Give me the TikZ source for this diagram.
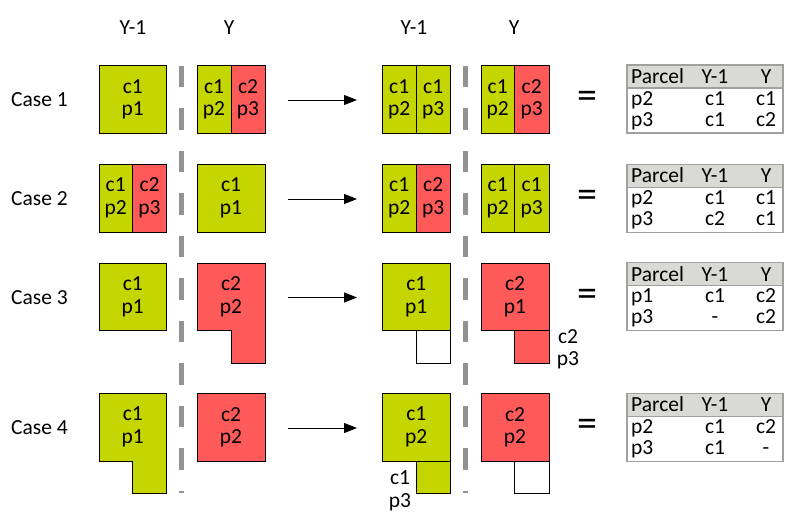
\documentclass[tikz,border=0pt]{standalone}
\usepackage{fontspec}
\setmainfont{Carlito}
\usetikzlibrary{arrows.meta}
\definecolor{cgreen}{HTML}{C5D500}
\definecolor{cred}{HTML}{FF5A5A}
\definecolor{sepgray}{HTML}{919396}
\definecolor{tabgray}{HTML}{A0A0A0}
\definecolor{tabhead}{HTML}{D9D9D6}
\newcommand\PTable[8]{%
  \fill[tabhead] (627,#2) rectangle (783,{#2+23});
  \draw[tab] (627,#2) rectangle (783,{#2+68});
  \draw[tab] (627,{#2+23}) -- (783,{#2+23});
  \node[anchor=base west] (#1hp) at (631,{#2+18.3}) {Parcel};
  \node[anchor=base] (#1hy1) at (715,{#2+18.3}) {Y-1};
  \node[anchor=base] (#1hy) at (766,{#2+18.3}) {Y};
  \node[anchor=base west] (#1ap) at (631,{#2+40}) {#3};
  \node[anchor=base] (#1ay1) at (715,{#2+40}) {#4};
  \node[anchor=base] (#1ay) at (766,{#2+40}) {#5};
  \node[anchor=base west] (#1bp) at (631,{#2+61}) {#6};
  \node[anchor=base] (#1by1) at (715,{#2+61}) {#7};
  \node[anchor=base] (#1by) at (766,{#2+61}) {#8};
}
\begin{document}
\begin{tikzpicture}[x=1pt,y=-1pt,
  every node/.style={font=\fontsize{21.5}{22.5}\selectfont, inner sep=0pt, align=center},
  gbox/.style={draw=black, line width=1pt, fill=cgreen},
  rbox/.style={draw=black, line width=1pt, fill=cred},
  wbox/.style={draw=black, line width=1pt, fill=white},
  sepline/.style={draw=sepgray, line width=5pt, dash pattern=on 21.5pt off 21pt},
  arr/.style={-{Triangle[length=13pt,width=10pt]}, line width=1pt},
  tab/.style={draw=tabgray, line width=1.5pt},
  eqs/.style={font=\fontsize{40}{40}\selectfont},
]
\useasboundingbox (0,0) rectangle (806,525);

% headers
\node (h1) at (133,28) {Y-1};
\node (h2) at (229,28) {Y};
\node (h3) at (414,28) {Y-1};
\node (h4) at (514,28) {Y};

% separators
\coordinate (s1a) at (181.7,65.7);
\coordinate (s1b) at (181.7,493);
\coordinate (s2a) at (465.7,65.7);
\coordinate (s2b) at (465.7,493);
\draw[sepline] (s1a) -- (s1b);
\draw[sepline] (s2a) -- (s2b);

% case labels
\node[anchor=west] (c1) at (11,100) {Case 1};
\node[anchor=west] (c2) at (11,199) {Case 2};
\node[anchor=west] (c3) at (11,297.5) {Case 3};
\node[anchor=west] (c4) at (11,428) {Case 4};

% ---------- Case 1 ----------
\draw[gbox] (99,65.5) rectangle (166.5,133);
\node (b1a) at (132.75,99.3) {c1\\p1};
\draw[gbox] (197,65.5) rectangle (231,133);
\draw[rbox] (231,65.5) rectangle (265,133);
\node (b1b) at (214,99.3) {c1\\p2};
\node (b1c) at (248,99.3) {c2\\p3};
\draw[gbox] (382.3,65.5) rectangle (416,133);
\draw[gbox] (416,65.5) rectangle (450.3,133);
\node (b1d) at (399.2,99.3) {c1\\p2};
\node (b1e) at (433.2,99.3) {c1\\p3};
\draw[gbox] (481,65.5) rectangle (514.5,133);
\draw[rbox] (514.5,65.5) rectangle (549,133);
\node (b1f) at (497.7,99.3) {c1\\p2};
\node (b1g) at (531.7,99.3) {c2\\p3};

% ---------- Case 2 ----------
\draw[gbox] (99,164) rectangle (132.5,232);
\draw[rbox] (132.5,164) rectangle (166.5,232);
\node (b2a) at (115.7,198) {c1\\p2};
\node (b2b) at (149.5,198) {c2\\p3};
\draw[gbox] (197,164) rectangle (265,232);
\node (b2c) at (231,198) {c1\\p1};
\draw[gbox] (382.3,164) rectangle (416,232);
\draw[rbox] (416,164) rectangle (450.3,232);
\node (b2d) at (399.2,198) {c1\\p2};
\node (b2e) at (433.2,198) {c2\\p3};
\draw[gbox] (481,164) rectangle (514.5,232);
\draw[gbox] (514.5,164) rectangle (549,232);
\node (b2f) at (497.7,198) {c1\\p2};
\node (b2g) at (531.7,198) {c1\\p3};

% ---------- Case 3 ----------
\draw[gbox] (99,263) rectangle (166.5,330.5);
\node (b3a) at (132.75,296.7) {c1\\p1};
\draw[rbox] (197,263) -- (265,263) -- (265,363) -- (231,363) -- (231,330.5) -- (197,330.5) -- cycle;
\node (b3b) at (231,296.7) {c2\\p2};
\draw[gbox] (382.3,263) rectangle (450.3,330.5);
\node (b3c) at (416.3,296.7) {c1\\p1};
\draw[wbox] (416,330.5) rectangle (450.3,363);
\draw[rbox] (481,263) rectangle (549,330.5);
\node (b3d) at (515,296.7) {c2\\p1};
\draw[rbox] (514.5,330.5) rectangle (549,363);
\node (b3e) at (568,349.5) {c2\\p3};

% ---------- Case 4 ----------
\draw[gbox] (99,393.3) -- (166.5,393.3) -- (166.5,493.5) -- (132.5,493.5) -- (132.5,461) -- (99,461) -- cycle;
\node (b4a) at (132.75,427) {c1\\p1};
\draw[rbox] (197,393.3) rectangle (265,461);
\node (b4b) at (231,427) {c2\\p2};
\draw[gbox] (382.3,393.3) rectangle (450.3,461);
\node (b4c) at (416.3,427) {c1\\p2};
\draw[gbox] (416,461) rectangle (450.3,493.5);
\node (b4d) at (400,491) {c1\\p3};
\draw[rbox] (481,393.3) rectangle (549,461);
\node (b4e) at (515,427) {c2\\p2};
\draw[wbox] (514.5,461) rectangle (549,493.5);

% arrows
\coordinate (a1s) at (288,100);   \coordinate (a1e) at (357,100);
\coordinate (a2s) at (288,199);   \coordinate (a2e) at (357,199);
\coordinate (a3s) at (288,297.5); \coordinate (a3e) at (357,297.5);
\coordinate (a4s) at (288,428);   \coordinate (a4e) at (357,428);
\draw[arr] (a1s) -- (a1e);
\draw[arr] (a2s) -- (a2e);
\draw[arr] (a3s) -- (a3e);
\draw[arr] (a4s) -- (a4e);

% equals
\node[eqs] (e1) at (587,100) {=};
\node[eqs] (e2) at (587,199) {=};
\node[eqs] (e3) at (587,297.5) {=};
\node[eqs] (e4) at (587,428) {=};

% tables
\PTable{t1}{65}{p2}{c1}{c1}{p3}{c1}{c2}
\PTable{t2}{164.3}{p2}{c1}{c1}{p3}{c2}{c1}
\PTable{t3}{262.7}{p1}{c1}{c2}{p3}{-}{c2}
\PTable{t4}{393.3}{p2}{c1}{c2}{p3}{c1}{-}
\end{tikzpicture}
\end{document}
